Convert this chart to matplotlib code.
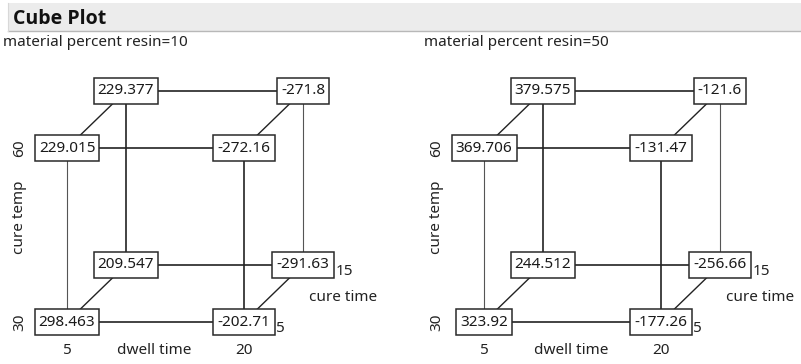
import numpy as np
import matplotlib.pyplot as plt
from matplotlib.path import Path
from matplotlib.patches import Rectangle
from matplotlib.lines import Line2D

plt.rcParams['font.family'] = ['Noto Sans', 'DejaVu Sans']

# factor settings of the 8 cube corners
dwell = [5, 20, 5, 20, 5, 20, 5, 20]
temp = [30, 30, 60, 60, 30, 30, 60, 60]
cure = [5, 5, 5, 5, 15, 15, 15, 15]

# predicted values for each corner, one list per resin level
resin_levels = [10, 50]
vals_resin10 = [298.463, -202.71, 229.015, -272.16, 209.547, -291.63, 229.377, -271.8]
vals_resin50 = [323.92, -177.26, 369.706, -131.47, 244.512, -256.66, 379.575, -121.6]

dwell_levels = [5, 20]
temp_levels = [30, 60]
cure_levels = [5, 15]

W, H, DPI = 801, 364, 100
FS = 11
DX, DY = 0.333, 0.328   # oblique offset of the back face


def cell_box(x0, y0, width, height, mutation_size):
    # rectangle with more vertical than horizontal padding
    px = 0.27 * mutation_size
    py = 0.38 * mutation_size
    x0, y0 = x0 - px, y0 - py
    x1, y1 = x0 + width + 2 * px, y0 + height + 2 * py
    return Path([(x0, y0), (x1, y0), (x1, y1), (x0, y1), (x0, y0)], closed=True)


def proj(d, t, c):
    i = dwell_levels.index(d)
    j = temp_levels.index(t)
    k = cure_levels.index(c)
    return i + DX * k, j + DY * k


fig = plt.figure(figsize=(W / DPI, H / DPI), dpi=DPI)

# header bar
fig.add_artist(Rectangle((8 / W, 1 - 31 / H), 793 / W, 28 / H, transform=fig.transFigure,
                         fc='#ececec', ec='none'))
fig.add_artist(Line2D([8 / W, 1], [1 - 31 / H, 1 - 31 / H], transform=fig.transFigure,
                      color='#b8b8b8', lw=1))
fig.add_artist(Line2D([8 / W, 8 / W], [1 - 31 / H, 1 - 3 / H], transform=fig.transFigure,
                      color='#d8d8d8', lw=0.8))
fig.text(13 / W, 1 - 24 / H, 'Cube Plot', fontsize=14, fontweight='bold',
         family=['Open Sans', 'Roboto', 'DejaVu Sans'], color='#111111', va='baseline')

panel_left = [0, 417]
sub_x = [3, 424]
ax_w, ax_h = 400, 332
x0_px, y0_px = 67, 42      # pixel position of the (5, 30, 5) corner inside the panel
sx, sy = 177, 174

for p, vals in enumerate([vals_resin10, vals_resin50]):
    fig.text(sub_x[p] / W, 1 - 46 / H, f'material percent resin={resin_levels[p]}',
             fontsize=FS, color='#222222', va='baseline')

    ax = fig.add_axes([panel_left[p] / W, 0, ax_w / W, ax_h / H])
    ax.set_xlim(-x0_px / sx, (ax_w - x0_px) / sx)
    ax.set_ylim(-y0_px / sy, (ax_h - y0_px) / sy)
    ax.axis('off')

    pts = [proj(d, t, c) for d, t, c in zip(dwell, temp, cure)]

    # cube edges: corners that differ in exactly one factor
    for a in range(8):
        for b in range(a + 1, 8):
            diff = [dwell[a] != dwell[b], temp[a] != temp[b], cure[a] != cure[b]]
            if sum(diff) != 1:
                continue
            lw, col = 1.2, '#222222'
            if diff[1]:
                # vertical edges: front-left and back-right render lighter
                if (dwell[a] == 5) == (cure[a] == 5):
                    lw, col = 0.8, '#555555'
            elif diff[2]:
                lw = 1.0
            ax.plot([pts[a][0], pts[b][0]], [pts[a][1], pts[b][1]],
                    color=col, lw=lw, zorder=1, solid_capstyle='butt')

    for k in range(8):
        x, y = pts[k]
        txt = ax.text(x, y, str(vals[k]), fontsize=FS, color='#1a1a1a',
                      ha='center', va='center', zorder=3,
                      bbox=dict(boxstyle=cell_box, fc='white', ec='#2a2a2a', lw=1.1))
        # cure time level next to the right-hand bottom boxes
        if dwell[k] == 20 and temp[k] == 30:
            ax.annotate(str(cure[k]), xy=(1, 0), xycoords=txt,
                        xytext=(6, -3), textcoords='offset pixels',
                        fontsize=FS, color='#222222', ha='left', va='baseline')

    # axis labels
    lab = dict(fontsize=FS, color='#222222')
    ax.text(-0.266, 1, str(temp_levels[1]), rotation=90, ha='center', va='center', **lab)
    ax.text(-0.266, 0, str(temp_levels[0]), rotation=90, ha='center', va='center', **lab)
    ax.text(-0.266, 0.6, 'cure temp', rotation=90, ha='center', va='center', **lab)
    ax.text(0, -0.165, str(dwell_levels[0]), ha='center', va='center', **lab)
    ax.text(1, -0.165, str(dwell_levels[1]), ha='center', va='center', **lab)
    ax.text(0.49, -0.165, 'dwell time', ha='center', va='center', **lab)
    ax.text(1.56, 0.138, 'cure time', ha='center', va='center', **lab)

fig.savefig('out.png', dpi=DPI)
